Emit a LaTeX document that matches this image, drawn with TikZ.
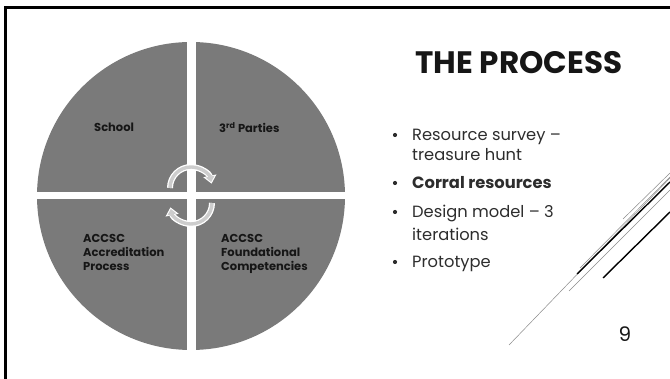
\documentclass[tikz,border=0pt]{standalone}
\usepackage{fontspec}
\setmainfont{Poppins}
\usepackage{xcolor}
\definecolor{pieGray}{HTML}{7A7A7A}
\definecolor{arcGray}{HTML}{CDCDCD}
\definecolor{lineGray}{HTML}{8A8A8A}
\definecolor{inkBlack}{HTML}{161616}
\usetikzlibrary{arrows.meta}
\tikzset{quadrant label/.style={anchor=base west, align=left, inner sep=0pt, text=inkBlack, font=\fontsize{11.5}{14}\selectfont\bfseries}}
\tikzset{bullet item/.style={anchor=base west, align=left, inner sep=0pt, text=inkBlack!90, font=\fontsize{16.3}{20}\selectfont}}
\tikzset{bullet dot/.style={circle, fill=inkBlack!90, inner sep=0pt, minimum size=4.2pt}}
\tikzset{cycle rim/.style={draw=white, line width=6pt, -{Triangle[length=8pt,width=13pt]}}}
\tikzset{cycle core/.style={draw=arcGray, line width=3.4pt, shorten >=1.6pt, -{Triangle[length=5.6pt,width=8.6pt]}}}
\tikzset{deco thin/.style={draw=lineGray, line width=0.5pt}}
\tikzset{deco thick/.style={draw=black, line width=1.4pt}}

\begin{document}
\begin{tikzpicture}[x=1pt, y=-1pt]
\useasboundingbox (0,0) rectangle (670,379);
%--------------------
% slide frame
%--------------------
\draw[line width=3pt] (5.5,379) -- (5.5,7.5) -- (670,7.5);

%--------------------
% the four quadrants
%--------------------
\fill[pieGray] (191,196) circle (154);
\fill[white] (186.5,38) rectangle (195.5,354);
\fill[white] (33,192.5) rectangle (349,199.5);

\node[quadrant label](school) at (94,132) {School};
\node[quadrant label](parties) at (219,133) {3\textsuperscript{rd} Parties};
\node[quadrant label](accred) at (83,271) {ACCSC\\Accreditation\\Process};
\node[quadrant label](found) at (221,271) {ACCSC\\Foundational\\Competencies};

%--------------------
% cycle arrows
%--------------------
\draw[cycle rim] (170,188) arc[start angle=180, end angle=348, radius=21];
\draw[cycle core] (170,188) arc[start angle=180, end angle=348, radius=21];
\draw[cycle rim] (212,203) arc[start angle=0, end angle=168, radius=21];
\draw[cycle core] (212,203) arc[start angle=0, end angle=168, radius=21];

%--------------------
% title and bullets
%--------------------
\node[font=\fontsize{31}{32}\selectfont\bfseries, text=inkBlack](title) at (519,63) {THE PROCESS};

\node[bullet item](survey) at (412,161) {Resource survey --\\treasure hunt};
\node[bullet item, font=\fontsize{16.3}{20}\selectfont\bfseries](corral) at (412,189) {Corral resources};
\node[bullet item, font=\fontsize{16.3}{23}\selectfont](design) at (412,241) {Design model -- 3\\iterations};
\node[bullet item](proto) at (412,268) {Prototype};
\foreach \y in {135,183,212,262}
  \node[bullet dot] at (395,\y) {};

\node[font=\fontsize{20}{22}\selectfont, text=inkBlack](pagenr) at (625,334) {9};

%--------------------
% corner lines
%--------------------
\draw[deco thin] (509,345) -- (670,178);
\draw[deco thin] (569,291) -- (670,190);
\draw[deco thin] (580,268) -- (670,177);
\draw[deco thick] (577,274) -- (670,182);
\draw[deco thin] (623,219) -- (670,173);
\draw[deco thick] (603,278) -- (670,212);
\end{tikzpicture}
\end{document}
